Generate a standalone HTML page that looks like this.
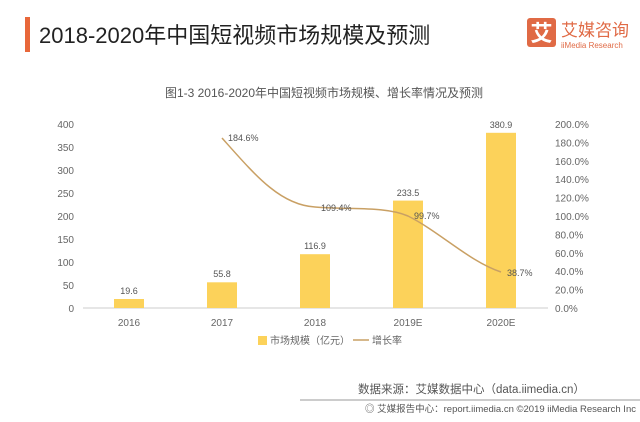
<!DOCTYPE html>
<html><head><meta charset="utf-8"><style>
body{margin:0;background:#fff;width:640px;height:417px;overflow:hidden;font-family:"Liberation Sans","Noto Sans CJK SC",sans-serif}
</style></head><body>
<svg width="640" height="417" xmlns="http://www.w3.org/2000/svg" font-family="Liberation Sans, Noto Sans CJK SC, sans-serif">
<rect x="25" y="17" width="5" height="35" fill="#e8673a"/>
<text x="39" y="43" font-size="22" fill="#222">2018-2020年中国短视频市场规模及预测</text>
<rect x="527" y="18" width="29" height="29" rx="3" fill="#e06a45"/>
<text x="541.5" y="41" font-size="22" fill="#fff" text-anchor="middle" font-weight="bold">艾</text>
<text x="561" y="36" font-size="17" fill="#e06a45">艾媒咨询</text>
<text x="561" y="48" font-size="8" fill="#e06a45">iiMedia Research</text>
<text x="324" y="97" font-size="12" fill="#555" text-anchor="middle">图1-3 2016-2020年中国短视频市场规模、增长率情况及预测</text>
<g font-size="10" fill="#666">
<text x="74" y="128" text-anchor="end">400</text>
<text x="74" y="151" text-anchor="end">350</text>
<text x="74" y="174" text-anchor="end">300</text>
<text x="74" y="197" text-anchor="end">250</text>
<text x="74" y="220" text-anchor="end">200</text>
<text x="74" y="243" text-anchor="end">150</text>
<text x="74" y="266" text-anchor="end">100</text>
<text x="74" y="289" text-anchor="end">50</text>
<text x="74" y="312" text-anchor="end">0</text>
<text x="555" y="128">200.0%</text>
<text x="555" y="146.4">180.0%</text>
<text x="555" y="164.8">160.0%</text>
<text x="555" y="183.2">140.0%</text>
<text x="555" y="201.6">120.0%</text>
<text x="555" y="220">100.0%</text>
<text x="555" y="238.4">80.0%</text>
<text x="555" y="256.8">60.0%</text>
<text x="555" y="275.2">40.0%</text>
<text x="555" y="293.6">20.0%</text>
<text x="555" y="312">0.0%</text>
</g>
<line x1="83" y1="308" x2="548" y2="308" stroke="#ccc"/>
<g fill="#fcd25a">
<rect x="114" y="299" width="30" height="9"/>
<rect x="207" y="282.3" width="30" height="25.7"/>
<rect x="300" y="254.2" width="30" height="53.8"/>
<rect x="393" y="200.6" width="30" height="107.4"/>
<rect x="486" y="132.8" width="30" height="175.2"/>
</g>
<g font-size="9" fill="#555" text-anchor="middle">
<text x="129" y="294">19.6</text>
<text x="222" y="277">55.8</text>
<text x="315" y="249">116.9</text>
<text x="408" y="196">233.5</text>
<text x="501" y="128">380.9</text>
</g>
<path d="M222 138 C255 175,280 205,315 207 C350 210,385 206,408 216 C440 232,470 262,501 272" fill="none" stroke="#c9a064" stroke-width="1.5"/>
<g font-size="9" fill="#555">
<text x="228" y="141">184.6%</text>
<text x="321" y="211">109.4%</text>
<text x="414" y="219">99.7%</text>
<text x="507" y="276">38.7%</text>
</g>
<g font-size="10" fill="#666" text-anchor="middle">
<text x="129" y="326">2016</text>
<text x="222" y="326">2017</text>
<text x="315" y="326">2018</text>
<text x="408" y="326">2019E</text>
<text x="501" y="326">2020E</text>
</g>
<rect x="258" y="336" width="9" height="9" fill="#fcd25a"/>
<text x="270" y="344" font-size="10" fill="#666">市场规模（亿元）</text>
<line x1="353" y1="340" x2="369" y2="340" stroke="#c9a064" stroke-width="1.5"/>
<text x="372" y="344" font-size="10" fill="#666">增长率</text>
<text x="358" y="393" font-size="11.5" fill="#555">数据来源：艾媒数据中心（data.iimedia.cn）</text>
<line x1="300" y1="400" x2="640" y2="400" stroke="#999"/>
<text x="365" y="412" font-size="9.5" fill="#555">◎ 艾媒报告中心：report.iimedia.cn ©2019 iiMedia Research Inc</text>
</svg>
</body></html>
